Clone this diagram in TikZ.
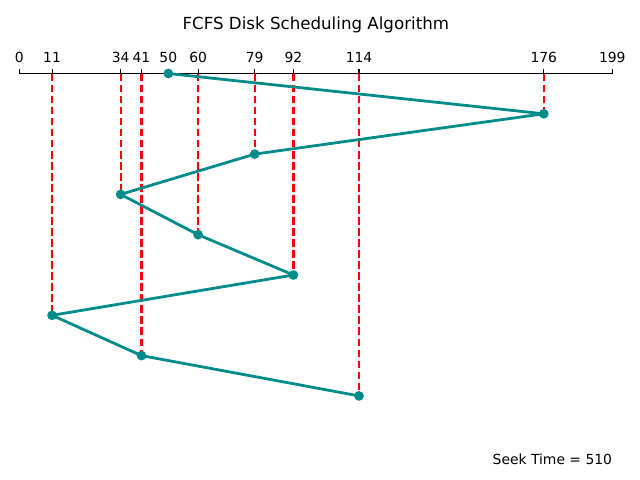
\documentclass[tikz,border=0pt]{standalone}
\usepackage{fontspec}
\setmainfont{DejaVu Sans}
\definecolor{seekteal}{RGB}{0,139,139}
\tikzset{
  track/.style={
    line width=2pt,
    draw=seekteal,
    line join=round
  },
  drop/.style={
    line width=1.5pt,
    draw=red,
    dash pattern=on 5.55pt off 2.4pt
  },
  axis-line/.style={line width=0.8pt, draw=black},
  head-dot/.style={circle, fill=seekteal, minimum size=7pt, inner sep=0pt},
  tick-label/.style={anchor=base, inner sep=0pt, font=\fontsize{10}{12}\selectfont}
}

\begin{document}
\begin{tikzpicture}[x=0.72pt,y=-0.72pt]
  \useasboundingbox (0,0) rectangle (640,480);

  % cylinder axis: 0..199 over pixels 19.3..612.3
  \coordinate (axis-l) at (19.3,73.5);
  \coordinate (axis-r) at (612.3,73.5);
  \draw[axis-line] (axis-l) -- (axis-r);
  \foreach \v in {0,11,34,41,50,60,79,92,114,176,199}{
    \coordinate (x\v) at (19.3+2.98*\v,73.5);
    \draw[axis-line] (x\v) -- ++(0,-4.86);
    \node[tick-label] (t\v) at (19.3+2.98*\v,62.5) {\v};
  }

  % head positions in request order
  % 50, 176, 79, 34, 60, 92, 11, 41, 114
  \foreach \v [count=\i from 0] in {50,176,79,34,60,92,11,41,114}{
    \coordinate (p\i) at (19.3+2.98*\v,73.5+40.3*\i);
  }
  \foreach \i in {1,...,8}{
    \draw[drop] (p\i |- axis-l) -- (p\i);
  }
  \draw[track] (p0) -- (p1) -- (p2) -- (p3) -- (p4)
    -- (p5) -- (p6) -- (p7) -- (p8);
  \foreach \i in {0,...,8}{
    \node[head-dot] (d\i) at (p\i) {};
  }

  \node[anchor=base, font=\fontsize{12}{14}\selectfont] (title)
    at (315.8,29) {FCFS Disk Scheduling Algorithm};
  \node[anchor=base east, inner sep=0pt, font=\fontsize{10}{12}\selectfont] (seek)
    at (612.3,464) {Seek Time = 510};
\end{tikzpicture}
\end{document}
